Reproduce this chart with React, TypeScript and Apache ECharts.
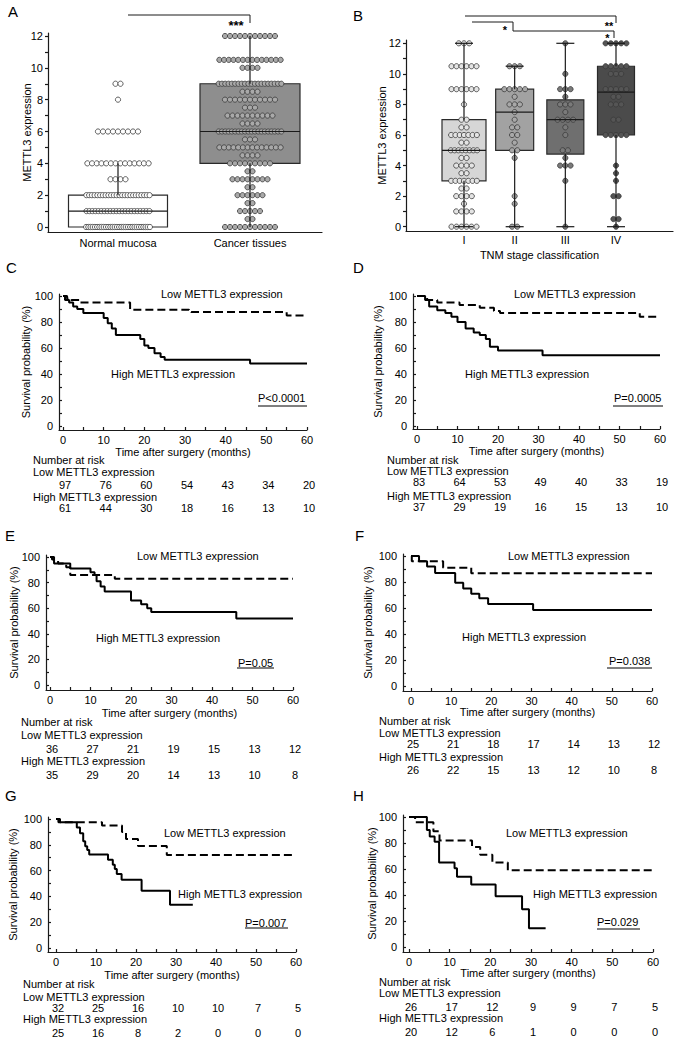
import React, { useEffect, useRef } from "react";
import * as echarts from "echarts";

const FONT = "'Liberation Sans', Arial, Helvetica, sans-serif";

// ---------------- Panel A data ----------------
const tissueGroups = ["Normal mucosa", "Cancer tissues"];
// [group index, min, Q1, median, Q3, max]
const tissueBoxStats = [
  [0, 0, 0, 1, 2, 4],
  [1, 0, 4, 6, 9, 12],
];
// [value, number of samples]
const normalDots = [[0, 30], [1, 22], [2, 24], [3, 4], [4, 14], [6, 9], [8, 1], [9, 2]];
const cancerDots = [
  [0, 11], [0.5, 2], [1, 5], [1.5, 2], [2, 6], [2.5, 2], [3, 8], [3.5, 2], [4, 9], [4.5, 4],
  [5, 14], [5.5, 3], [6, 20], [6.5, 4], [7, 10], [7.5, 3], [8, 11], [8.5, 4], [9, 20],
  [10, 4], [10.5, 14], [12, 11],
];

// ---------------- Panel B data ----------------
const stageGroups = ["I", "II", "III", "IV"];
const stageBoxStats = [
  [1, 0, 3, 5, 7, 12],
  [2, 0, 5, 7.5, 9, 10.5],
  [3, 0, 4.75, 7, 8.3, 12],
  [4, 0, 6, 8.8, 10.5, 12],
];
const stageIDots = [
  [0, 6], [1, 4], [1.5, 1], [2, 4], [2.5, 2], [3, 7], [3.5, 2], [4, 4], [4.5, 2], [5, 8],
  [5.5, 2], [6, 7], [6.5, 2], [7, 2], [8, 1], [9, 6], [10.5, 6], [12, 3],
];
const stageIIDots = [
  [0, 2], [1.5, 1], [2, 1], [4.5, 1], [5, 2], [5.5, 1], [6, 2], [6.5, 2], [7, 1], [7.5, 1],
  [8, 3], [8.5, 1], [9, 5], [10.5, 3],
];
const stageIIIDots = [
  [0, 1], [3, 1], [4, 3], [4.5, 1], [5, 2], [6, 1], [6.5, 1], [7, 4], [7.5, 1], [8, 3],
  [8.5, 1], [9, 3], [10, 1], [12, 1],
];
const stageIVDots = [
  [0, 1], [0.5, 2], [2, 2], [3, 1], [3.5, 1], [4, 1], [6, 5], [7, 2], [8, 3], [8.5, 2],
  [9, 5], [10, 3], [10.5, 5], [12, 5],
];

// ---------------- Kaplan-Meier data: [months, survival %] ----------------
const lowC = [[0, 100], [1, 98], [2, 97], [4, 95], [16.5, 89.5], [31, 88.5], [31.5, 87.7], [55, 85], [60, 85]];
const highC = [[0, 100], [0.5, 97], [1.5, 95], [2.5, 92], [3.5, 90], [5, 87], [10, 83], [11, 79], [12, 75], [13, 70], [19, 67], [20, 62], [21, 60], [22.5, 56], [24, 53], [25, 51], [46, 48], [60, 48]];
const lowD = [[0, 100], [2.5, 97], [5, 95], [10.5, 93], [15.5, 91], [19, 88.5], [20.5, 87], [55, 84], [60, 84]];
const highD = [[0, 100], [2, 97], [3, 92], [5, 89], [7, 87], [8.5, 84], [10, 80], [12, 75], [14, 72], [15.5, 70], [17, 67], [18, 61], [20, 58], [31, 54.5], [60, 54.5]];
const lowE = [[0, 100], [1, 97], [2, 95], [4, 92], [5, 86], [16, 83], [60, 83]];
const highE = [[0, 100], [0.5, 98], [1, 95], [5, 91], [10, 88], [11, 86], [11.5, 81], [12.5, 77], [13.5, 73], [20, 66], [22.5, 63], [24, 60], [25, 57], [46, 52], [60, 52]];
const lowF = [[0, 100], [0.2, 96], [8, 91], [15, 86.7], [60, 86.7]];
const highF = [[0, 100], [2, 96], [4, 92], [6, 87], [11, 79.5], [13, 75], [15, 71], [17, 67.5], [19.2, 63], [30.4, 58.5], [60, 58.5]];
const lowG = [[0, 100], [1, 97.5], [11.5, 95], [16.5, 90], [17.5, 84.5], [20.5, 79], [27.7, 72], [59, 72]];
const highG = [[0, 100], [0.6, 97.4], [5.2, 93.5], [6, 89], [6.8, 82.7], [7.3, 78.8], [7.8, 76], [8.3, 72.4], [13, 68.5], [14.2, 64.6], [14.7, 61.2], [15.2, 57.4], [16.4, 53], [21.4, 44.4], [28.5, 33.6], [34.2, 33.6]];
const lowH = [[0, 100], [1.5, 96], [6, 89], [7.5, 82], [15.5, 77], [17.5, 71], [20.5, 65], [24.3, 59], [60, 59]];
const highH = [[0, 100], [4.4, 90], [5.1, 85], [6.3, 81], [7.4, 65], [11.2, 60.5], [11.8, 54], [15.3, 48], [21.3, 39], [27.8, 29], [29.5, 14.5], [33.6, 14.5]];

const riskTimes = [0, 10, 20, 30, 40, 50, 60];
const riskLowC = [97, 76, 60, 54, 43, 34, 20];
const riskHighC = [61, 44, 30, 18, 16, 13, 10];
const riskLowD = [83, 64, 53, 49, 40, 33, 19];
const riskHighD = [37, 29, 19, 16, 15, 13, 10];
const riskLowE = [36, 27, 21, 19, 15, 13, 12];
const riskHighE = [35, 29, 20, 14, 13, 10, 8];
const riskLowF = [25, 21, 18, 17, 14, 13, 12];
const riskHighF = [26, 22, 15, 13, 12, 10, 8];
const riskLowG = [32, 25, 16, 10, 10, 7, 5];
const riskHighG = [25, 16, 8, 2, 0, 0, 0];
const riskLowH = [26, 17, 12, 9, 9, 7, 5];
const riskHighH = [20, 12, 6, 1, 0, 0, 0];

const pValues = ["P<0.0001", "P=0.0005", "P=0.05", "P=0.038", "P=0.007", "P=0.029"];
const kmXTicks = [0, 10, 20, 30, 40, 50, 60];
const kmXMinor = [0, 5, 10, 15, 20, 25, 30, 35, 40, 45, 50, 55, 60];
const kmYTicks = [0, 20, 40, 60, 80, 100];
const kmYMinor = [0, 10, 20, 30, 40, 50, 60, 70, 80, 90, 100];
const exprTicks = [0, 2, 4, 6, 8, 10, 12];
const exprMinor = [0, 1, 2, 3, 4, 5, 6, 7, 8, 9, 10, 11, 12];

// ---------------- Styles / layout (pixel positions) ----------------
const tissueBoxFill = ["#ffffff", "#8e8e8e"];
const tissueDotFill = ["#ffffff", "#a9a9a9"];
const tissueBoxWidth = [99, 100];
const tissueCap = [0, 0];
const stageBoxFill = ["#d6d6d6", "#a2a2a2", "#6f6f6f", "#4b4b4b"];
const stageDotFill = ["#e4e4e4", "#a8a8a8", "#7a7a7a", "#555555"];
const stageBoxWidth = [44, 38, 37, 37];
const stageCap = [18, 18, 18, 18];

const kmLayouts = [
  { letter: "C", lx: 6, ly: 267, x0: 63, x60: 307, y100: 296, y0: 426, axY: 430, axX: 59, yNameCx: 25.7, xNameCy: 452, low: [161, 294], high: [111, 374], p: [258, 398], pl: [258, 307, 406], rl: 33, ry: [460, 472, 485, 497, 508] },
  { letter: "D", lx: 353, ly: 267, x0: 417, x60: 660, y100: 296, y0: 426, axY: 429, axX: 413, yNameCx: 378, xNameCy: 451, low: [514, 294], high: [465, 374], p: [614, 398], pl: [613, 663, 406], rl: 387, ry: [460, 471, 482, 496, 507] },
  { letter: "E", lx: 5, ly: 535, x0: 50, x60: 293, y100: 557, y0: 685, axY: 690, axX: 46, yNameCx: 14.3, xNameCy: 713, low: [137, 556], high: [96, 638], p: [238, 663], pl: [237, 274, 668], rl: 21, ry: [722, 735, 749, 761, 775] },
  { letter: "F", lx: 355, ly: 535, x0: 411, x60: 652, y100: 556, y0: 686, axY: 691, axX: 403, yNameCx: 368, xNameCy: 712, low: [508, 556], high: [462, 637], p: [609, 661], pl: [607, 652, 668], rl: 379, ry: [721, 733, 744, 757, 770] },
  { letter: "G", lx: 5, ly: 795, x0: 56, x60: 296, y100: 819, y0: 948, axY: 952, axX: 48, yNameCx: 13.3, xNameCy: 975, low: [164, 833], high: [178, 894], p: [245, 923], pl: [245, 288, 928], rl: 23, ry: [984, 997, 1008, 1019, 1033] },
  { letter: "H", lx: 353, ly: 795, x0: 409, x60: 653, y100: 817, y0: 947, axY: 952, axX: 403, yNameCx: 371.7, xNameCy: 973, low: [506, 833], high: [533, 894], p: [597, 922], pl: [597, 640, 929], rl: 379, ry: [982, 993, 1007, 1018, 1032] },
];

const kmCurves = [
  { low: lowC, high: highC, rLow: riskLowC, rHigh: riskHighC },
  { low: lowD, high: highD, rLow: riskLowD, rHigh: riskHighD },
  { low: lowE, high: highE, rLow: riskLowE, rHigh: riskHighE },
  { low: lowF, high: highF, rLow: riskLowF, rHigh: riskHighF },
  { low: lowG, high: highG, rLow: riskLowG, rHigh: riskHighG },
  { low: lowH, high: highH, rLow: riskLowH, rHigh: riskHighH },
];

const valAt = (p: number, v1: number, p1: number, v2: number, p2: number) =>
  v1 + ((p - p1) * (v2 - v1)) / (p2 - p1);

const labelStyle = { color: "#000", fontSize: 11, fontFamily: FONT };
const axisLineStyle = { color: "#1a1a1a", width: 1.2 };

function txt(x: number, y: number, text: string, align = "left", size = 11, weight = "normal") {
  return {
    type: "text",
    x,
    y,
    silent: true,
    style: {
      text,
      fill: "#000",
      font: `${weight} ${size}px ${FONT}`,
      textAlign: align,
      textVerticalAlign: "middle",
    },
  };
}

function buildOption() {
  const grid: any[] = [];
  const xAxis: any[] = [];
  const yAxis: any[] = [];
  const series: any[] = [];
  const graphic: any[] = [];

  // ---------- box/dot panels ----------
  const boxPanels = [
    {
      letter: "A", lx: 8, ly: 11,
      left: 48, right: 322, top: 33, bottom: 232,
      xr: [0, 118, 1, 250], yr: [0, 227, 12, 36],
      stats: tissueBoxStats, widths: tissueBoxWidth, caps: tissueCap, boxFill: tissueBoxFill, dotFill: tissueDotFill,
      dots: [normalDots, cancerDots], firstX: 0, labels: tissueGroups, xName: "", xNameGap: 16,
      yNameGap: 15.5, labelMargin: 5, rowMax: 66, dotGap: 5,
    },
    {
      letter: "B", lx: 353, ly: 15,
      left: 406, right: 673, top: 40, bottom: 231,
      xr: [1, 464, 4, 616], yr: [0, 226.7, 12, 43.3],
      stats: stageBoxStats, widths: stageBoxWidth, caps: stageCap, boxFill: stageBoxFill, dotFill: stageDotFill,
      dots: [stageIDots, stageIIDots, stageIIIDots, stageIVDots], firstX: 1, labels: stageGroups,
      xName: "TNM stage classification", xNameGap: 18.5, yNameGap: 18.8, labelMargin: 3.5, rowMax: 30, dotGap: 5.2,
    },
  ];

  boxPanels.forEach((bp) => {
    const gi = grid.length;
    grid.push({ left: bp.left, top: bp.top, width: bp.right - bp.left, height: bp.bottom - bp.top });
    const xmin = valAt(bp.left, bp.xr[0], bp.xr[1], bp.xr[2], bp.xr[3]);
    const xmax = valAt(bp.right, bp.xr[0], bp.xr[1], bp.xr[2], bp.xr[3]);
    const ymin = valAt(bp.bottom, bp.yr[0], bp.yr[1], bp.yr[2], bp.yr[3]);
    const ymax = valAt(bp.top, bp.yr[0], bp.yr[1], bp.yr[2], bp.yr[3]);
    const xVals = bp.labels.map((_, i) => i + bp.firstX);
    xAxis.push({
      gridIndex: gi, type: "value", min: xmin, max: xmax,
      axisLine: { show: true, onZero: false, lineStyle: axisLineStyle },
      axisTick: { show: false },
      splitLine: { show: false },
      axisLabel: {
        ...labelStyle, margin: bp.labelMargin, customValues: xVals,
        formatter: (v: number) => bp.labels[Math.round(v) - bp.firstX] ?? "",
      },
      name: bp.xName, nameLocation: "middle", nameGap: bp.xNameGap, nameMoveOverlap: false,
      nameTextStyle: labelStyle,
    });
    yAxis.push({
      gridIndex: gi, type: "value", min: ymin, max: ymax,
      axisLine: { show: true, onZero: false, lineStyle: axisLineStyle },
      axisTick: { show: true, inside: false, length: 3, customValues: exprMinor, lineStyle: axisLineStyle },
      splitLine: { show: false },
      axisLabel: { ...labelStyle, margin: 5, customValues: exprTicks },
      name: "METTL3 expression", nameLocation: "middle", nameGap: bp.yNameGap, nameRotate: 90, nameMoveOverlap: false,
      nameTextStyle: labelStyle,
    });

    // boxes
    series.push({
      type: "custom", xAxisIndex: gi, yAxisIndex: gi, data: bp.stats, encode: { x: 0, y: [1, 2, 3, 4, 5] },
      z: 2, silent: true, clip: false,
      renderItem: (params: any, api: any) => {
        const x = api.value(0);
        const q1 = api.coord([x, api.value(2)]);
        const q3 = api.coord([x, api.value(4)]);
        const w = bp.widths[params.dataIndex];
        return {
          type: "rect",
          shape: { x: q3[0] - w / 2, y: q3[1], width: w, height: q1[1] - q3[1] },
          style: { fill: bp.boxFill[params.dataIndex], stroke: "#2a2a2a", lineWidth: 1.2 },
        };
      },
    });

    // dots
    const dotData: number[][] = [];
    bp.dots.forEach((rows, gIdx) => rows.forEach((r) => dotData.push([gIdx + bp.firstX, r[0], r[1]])));
    series.push({
      type: "custom", xAxisIndex: gi, yAxisIndex: gi, data: dotData, encode: { x: 0, y: 1 },
      z: 3, silent: true, clip: false,
      renderItem: (params: any, api: any) => {
        const x = api.value(0);
        const n = api.value(2);
        const c = api.coord([x, api.value(1)]);
        const s = n > 1 ? Math.min(bp.dotGap, bp.rowMax / n) : 0;
        const fill = bp.dotFill[Math.round(x) - bp.firstX];
        const children = [];
        for (let k = 0; k < n; k++) {
          children.push({
            type: "circle",
            shape: { cx: c[0] + (k - (n - 1) / 2) * s, cy: c[1], r: 2.6 },
            style: { fill, stroke: "#3a3a3a", lineWidth: 0.8 },
          });
        }
        return { type: "group", children };
      },
    });

    // whiskers & medians
    series.push({
      type: "custom", xAxisIndex: gi, yAxisIndex: gi, data: bp.stats, encode: { x: 0, y: [1, 2, 3, 4, 5] },
      z: 4, silent: true, clip: false,
      renderItem: (params: any, api: any) => {
        const x = api.value(0);
        const p = [1, 2, 3, 4, 5].map((d) => api.coord([x, api.value(d)]));
        const w = bp.widths[params.dataIndex];
        const cap = bp.caps[params.dataIndex];
        const st = { stroke: "#1a1a1a", lineWidth: 1.2 };
        const ln = (x1: number, y1: number, x2: number, y2: number) => ({ type: "line", shape: { x1, y1, x2, y2 }, style: st });
        const ch: any[] = [
          ln(p[0][0], p[0][1], p[1][0], p[1][1]),
          ln(p[3][0], p[3][1], p[4][0], p[4][1]),
          ln(p[2][0] - w / 2, p[2][1], p[2][0] + w / 2, p[2][1]),
        ];
        if (cap > 0) {
          ch.push(ln(p[0][0] - cap / 2, p[0][1], p[0][0] + cap / 2, p[0][1]));
          ch.push(ln(p[4][0] - cap / 2, p[4][1], p[4][0] + cap / 2, p[4][1]));
        }
        return { type: "group", children: ch };
      },
    });

    graphic.push(txt(bp.lx, bp.ly, bp.letter, "left", 15));
  });

  // significance marks
  const bl = { stroke: "#1a1a1a", lineWidth: 1, fill: null };
  graphic.push({ type: "polyline", silent: true, shape: { points: [[128, 15], [250, 15], [250, 23]] }, style: bl });
  graphic.push(txt(236, 25.5, "***", "center", 13, "bold"));
  graphic.push({ type: "polyline", silent: true, shape: { points: [[465, 16], [616, 16], [616, 23]] }, style: bl });
  graphic.push(txt(609, 25.5, "**", "center", 11, "bold"));
  graphic.push({ type: "polyline", silent: true, shape: { points: [[472, 22], [513, 22], [513, 31], [614, 31], [614, 38]] }, style: bl });
  graphic.push(txt(505, 30, "*", "center", 11, "bold"));
  graphic.push(txt(607.5, 38, "*", "center", 11, "bold"));

  // ---------- Kaplan-Meier panels ----------
  kmLayouts.forEach((L, idx) => {
    const gi = grid.length;
    const cur = kmCurves[idx];
    const pxM = (L.x60 - L.x0) / 60;
    const pxS = (L.y0 - L.y100) / 100;
    const xmin = (L.axX - L.x0) / pxM;
    const ymin = -(L.axY - L.y0) / pxS;
    const top = L.y100 - 2;
    const ymax = 100 + 2 / pxS;
    grid.push({ left: L.axX, top, width: L.x60 - L.axX, height: L.axY - top });
    xAxis.push({
      gridIndex: gi, type: "value", min: xmin, max: 60,
      axisLine: { show: true, onZero: false, lineStyle: axisLineStyle },
      axisTick: { show: true, inside: true, length: 3, customValues: kmXMinor, lineStyle: axisLineStyle },
      splitLine: { show: false },
      axisLabel: { ...labelStyle, margin: 4, customValues: kmXTicks },
      name: "Time after surgery (months)", nameLocation: "middle", nameGap: L.xNameCy - L.axY - 5.5,
      nameMoveOverlap: false, nameTextStyle: labelStyle,
    });
    yAxis.push({
      gridIndex: gi, type: "value", min: ymin, max: ymax,
      axisLine: { show: true, onZero: false, lineStyle: axisLineStyle },
      axisTick: { show: true, inside: true, length: 3, customValues: kmYMinor, lineStyle: axisLineStyle },
      splitLine: { show: false },
      axisLabel: { ...labelStyle, margin: 6, customValues: kmYTicks },
      name: "Survival probability (%)", nameLocation: "middle", nameGap: L.axX - L.yNameCx - 5.5,
      nameRotate: 90, nameMoveOverlap: false, nameTextStyle: labelStyle,
    });
    series.push({
      type: "line", xAxisIndex: gi, yAxisIndex: gi, data: cur.low, step: "end", symbol: "none", showSymbol: false,
      lineStyle: { color: "#000", width: 2, type: [8, 4] }, z: 3, silent: true,
    });
    series.push({
      type: "line", xAxisIndex: gi, yAxisIndex: gi, data: cur.high, step: "end", symbol: "none", showSymbol: false,
      lineStyle: { color: "#000", width: 2 }, z: 3, silent: true,
    });

    graphic.push(txt(L.lx, L.ly, L.letter, "left", 15));
    graphic.push(txt(L.low[0], L.low[1], "Low METTL3 expression"));
    graphic.push(txt(L.high[0], L.high[1], "High METTL3 expression"));
    graphic.push(txt(L.p[0], L.p[1], pValues[idx]));
    graphic.push({ type: "line", silent: true, shape: { x1: L.pl[0], y1: L.pl[2], x2: L.pl[1], y2: L.pl[2] }, style: { stroke: "#000", lineWidth: 1 } });

    graphic.push(txt(L.rl, L.ry[0], "Number at risk"));
    graphic.push(txt(L.rl, L.ry[1], "Low METTL3 expression"));
    graphic.push(txt(L.rl, L.ry[3], "High METTL3 expression"));
    riskTimes.forEach((t, k) => {
      const px = L.x0 + t * pxM + 2;
      graphic.push(txt(px, L.ry[2], String(cur.rLow[k]), "center"));
      graphic.push(txt(px, L.ry[4], String(cur.rHigh[k]), "center"));
    });
  });

  return {
    animation: false,
    backgroundColor: "#ffffff",
    textStyle: { fontFamily: FONT },
    grid,
    xAxis,
    yAxis,
    series,
    graphic: { elements: graphic },
  };
}

export default function App() {
  const ref = useRef<HTMLDivElement>(null);
  useEffect(() => {
    if (!ref.current) return;
    const chart = echarts.init(ref.current, null, { renderer: "svg" });
    chart.setOption(buildOption() as any);
    return () => chart.dispose();
  }, []);
  return (
    <div
      ref={ref}
      style={{ position: "absolute", left: 0, top: 0, width: 677, height: 1042, background: "#fff" }}
    />
  );
}
